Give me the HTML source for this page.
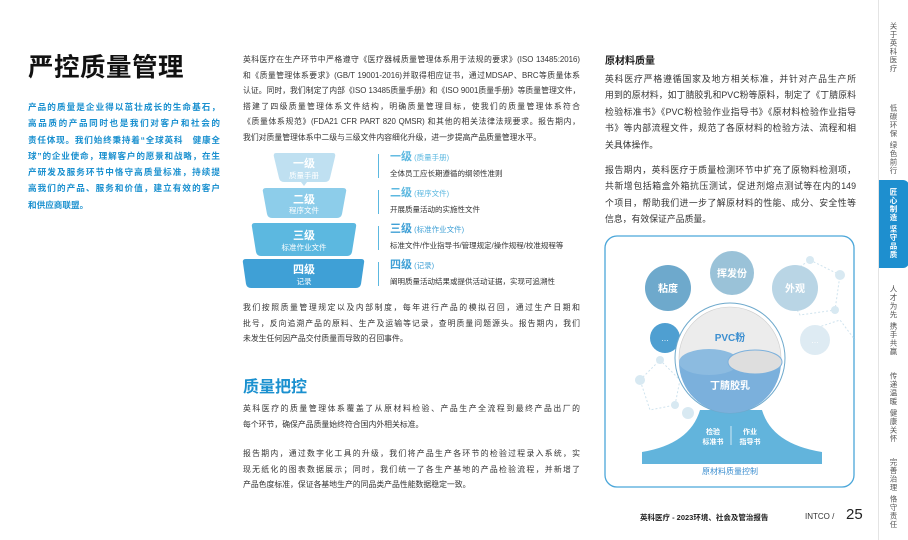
<!DOCTYPE html>
<html><head><meta charset="utf-8"><style>
*{margin:0;padding:0;box-sizing:border-box}
body{width:908px;height:540px;background:#fff;position:relative;overflow:hidden;font-family:"Liberation Sans","Noto Sans CJK SC",sans-serif;color:#333}
.a{position:absolute}
.p{font-size:7.85px;line-height:15.6px;color:#333}
.p span,.r span,.b span{display:block;white-space:nowrap;text-align:justify;text-align-last:justify}
.p span.e,.r span.e,.b span.e{text-align-last:left}
.r{font-size:8.85px;line-height:16.4px;width:251px}
.side{position:absolute;left:878px;top:0;width:30px;height:540px;border-left:1px solid #e4e4e4}
.v{position:absolute;writing-mode:vertical-rl;font-size:7.5px;color:#555;letter-spacing:1px;left:9px}
</style></head><body>

<div class="a" style="left:28px;top:47px;font-size:25.5px;font-weight:bold;color:#111;letter-spacing:0.5px">严控质量管理</div>
<div class="a b" style="left:28px;top:99px;width:192px;font-size:8.6px;line-height:16.3px;font-weight:bold;color:#1a90cf"><span>产品的质量是企业得以茁壮成长的生命基石，</span><span>高品质的产品同时也是我们对客户和社会的</span><span>责任体现。我们始终秉持着“全球英科　健康全</span><span>球”的企业使命，理解客户的愿景和战略，在生</span><span>产研发及服务环节中恪守高质量标准，持续提</span><span>高我们的产品、服务和价值，建立有效的客户</span><span class="e">和供应商联盟。</span></div>

<div class="a p" style="left:243px;top:52px;width:337px"><span>英科医疗在生产环节中严格遵守《医疗器械质量管理体系用于法规的要求》(ISO 13485:2016)</span><span>和《质量管理体系要求》(GB/T 19001-2016)并取得相应证书，通过MDSAP、BRC等质量体系</span><span>认证。同时，我们制定了内部《ISO 13485质量手册》和《ISO 9001质量手册》等质量管理文件，</span><span>搭建了四级质量管理体系文件结构，明确质量管理目标，使我们的质量管理体系符合</span><span>《质量体系规范》(FDA21 CFR PART 820 QMSR) 和其他的相关法律法规要求。报告期内，</span><span class="e">我们对质量管理体系中二级与三级文件内容细化升级，进一步提高产品质量管理水平。</span></div>

<svg class="a" style="left:240px;top:148px" width="130" height="145">
<path d="M36 5 H93 Q96 5 95 9 L90 30 Q89 34 85 34 H44 Q40 34 39 30 L34 9 Q33 5 36 5Z" fill="#bfe0f1"/>
<path d="M26 40 H103 Q107 40 106 44 L102 66 Q101 70 97 70 H32 Q28 70 27 66 L23 44 Q22 40 26 40Z" fill="#8dcdea"/>
<path d="M15 75 H113 Q117 75 116 79 L112 104 Q111 108 107 108 H21 Q17 108 16 104 L12 79 Q11 75 15 75Z" fill="#5cb8e0"/>
<path d="M6 111 H121 Q125 111 124 115 L121 136 Q120 140 116 140 H11 Q7 140 6 136 L3 115 Q2 111 6 111Z" fill="#3fa0d6"/>
<path d="M61 34 L67 34 L64 38Z" fill="#bfe0f1"/>
<g fill="#fff" text-anchor="middle" font-family="Liberation Sans,Noto Sans CJK SC,sans-serif">
<text x="64" y="19" font-size="11" font-weight="bold">一级</text><text x="64" y="30" font-size="7.5">质量手册</text>
<text x="64" y="55" font-size="11" font-weight="bold">二级</text><text x="64" y="65" font-size="7.5">程序文件</text>
<text x="64" y="91" font-size="11" font-weight="bold">三级</text><text x="64" y="102" font-size="7.5">标准作业文件</text>
<text x="64" y="125" font-size="11" font-weight="bold">四级</text><text x="64" y="136" font-size="7.5">记录</text>
</g></svg>

<div class="a" style="left:378px;top:154px;width:1px;height:24px;background:#5cb8e0"></div>
<div class="a" style="left:378px;top:190px;width:1px;height:24px;background:#5cb8e0"></div>
<div class="a" style="left:378px;top:226px;width:1px;height:24px;background:#5cb8e0"></div>
<div class="a" style="left:378px;top:262px;width:1px;height:24px;background:#5cb8e0"></div>
<div class="a" style="left:390px;top:151px;font-size:7.5px;line-height:12px;color:#333"><span style="color:#5cb8e0;font-size:11px;font-weight:bold">一级</span> <span style="color:#5cb8e0">(质量手册)</span><br><span style="line-height:20px">全体员工应长期遵循的纲领性准则</span></div>
<div class="a" style="left:390px;top:187px;font-size:7.5px;line-height:12px;color:#333"><span style="color:#5cb8e0;font-size:11px;font-weight:bold">二级</span> <span style="color:#5cb8e0">(程序文件)</span><br><span style="line-height:20px">开展质量活动的实施性文件</span></div>
<div class="a" style="left:390px;top:223px;font-size:7.5px;line-height:12px;color:#333"><span style="color:#3fa0d6;font-size:11px;font-weight:bold">三级</span> <span style="color:#3fa0d6">(标准作业文件)</span><br><span style="line-height:20px">标准文件/作业指导书/管理规定/操作规程/校准规程等</span></div>
<div class="a" style="left:390px;top:259px;font-size:7.5px;line-height:12px;color:#333"><span style="color:#3fa0d6;font-size:11px;font-weight:bold">四级</span> <span style="color:#3fa0d6">(记录)</span><br><span style="line-height:20px">阐明质量活动结果或提供活动证据，实现可追溯性</span></div>

<div class="a p" style="left:243px;top:300px;width:337px"><span>我们按照质量管理规定以及内部制度，每年进行产品的模拟召回，通过生产日期和</span><span>批号，反向追溯产品的原料、生产及运输等记录，查明质量问题源头。报告期内，我们</span><span class="e">未发生任何因产品交付质量而导致的召回事件。</span></div>
<div class="a" style="left:243px;top:373px;font-size:16px;font-weight:bold;color:#1a90cf">质量把控</div>
<div class="a p" style="left:243px;top:401px;width:337px"><span>英科医疗的质量管理体系覆盖了从原材料检验、产品生产全流程到最终产品出厂的</span><span class="e">每个环节，确保产品质量始终符合国内外相关标准。</span></div>
<div class="a p" style="left:243px;top:446px;width:337px"><span>报告期内，通过数字化工具的升级，我们将产品生产各环节的检验过程录入系统，实</span><span>现无纸化的图表数据展示；同时，我们统一了各生产基地的产品检验流程，并新增了</span><span class="e">产品色度标准，保证各基地生产的同品类产品性能数据稳定一致。</span></div>

<div class="a" style="left:605px;top:52px;font-size:10px;font-weight:bold;color:#222">原材料质量</div>
<div class="a r" style="left:605px;top:71px"><span>英科医疗严格遵循国家及地方相关标准，并针对产品生产所</span><span>用到的原材料，如丁腈胶乳和PVC粉等原料，制定了《丁腈原料</span><span>检验标准书》《PVC粉检验作业指导书》《原材料检验作业指导</span><span>书》等内部流程文件，规范了各原材料的检验方法、流程和相</span><span class="e">关具体操作。</span></div>
<div class="a r" style="left:605px;top:162px"><span>报告期内，英科医疗于质量检测环节中扩充了原物料检测项，</span><span>共新增包括箱盒外箱抗压测试，促进剂熔点测试等在内的149</span><span>个项目，帮助我们进一步了解原材料的性能、成分、安全性等</span><span class="e">信息，有效保证产品质量。</span></div>

<svg class="a" style="left:600px;top:230px" width="260" height="262" font-family="Liberation Sans,Noto Sans CJK SC,sans-serif">
<rect x="5" y="6" width="249" height="251" rx="12" fill="none" stroke="#4aa6d9" stroke-width="1.3"/>
<g stroke="#cfe3ee" stroke-dasharray="2 2" fill="none"><path d="M180 50 L210 30 L240 45 L235 80 L200 85 L180 50 M210 100 L240 90 L255 110"/><path d="M40 150 L60 130 L80 150 L75 175 L50 180 Z"/></g>
<g fill="#d8e9f2"><circle cx="210" cy="30" r="4"/><circle cx="240" cy="45" r="5"/><circle cx="235" cy="80" r="4"/><circle cx="60" cy="130" r="4"/><circle cx="40" cy="150" r="5"/><circle cx="75" cy="175" r="4"/><circle cx="88" cy="183" r="6"/></g>
<circle cx="68" cy="58" r="23" fill="#6ea9cc"/><text x="68" y="62" text-anchor="middle" font-size="10" fill="#fff" font-weight="bold">粘度</text>
<circle cx="132" cy="43" r="22" fill="#9ac2d8"/><text x="132" y="47" text-anchor="middle" font-size="10" fill="#fff" font-weight="bold">挥发份</text>
<circle cx="195" cy="58" r="23" fill="#b9d5e5"/><text x="195" y="62" text-anchor="middle" font-size="10" fill="#fff" font-weight="bold">外观</text>
<circle cx="65" cy="108" r="15" fill="#4f9fd1"/><text x="65" y="111" text-anchor="middle" font-size="8" fill="#fff">…</text>
<circle cx="215" cy="110" r="15" fill="#deebf3"/><text x="215" y="113" text-anchor="middle" font-size="8" fill="#fff">…</text>
<path d="M42 234 V222 Q90 214 100 180 L162 180 Q172 214 222 222 V234Z" fill="#62b4dc"/>
<circle cx="130" cy="128" r="55" fill="#fff" stroke="#6ea9cc" stroke-width="1"/>
<circle cx="130" cy="128" r="51" fill="#ececec" stroke="#ccc" stroke-width="0.6"/>
<path d="M79 132 A51 51 0 0 0 181 132 Z" fill="#7bb0dc"/>
<ellipse cx="109" cy="132" rx="30" ry="13" fill="#8cbbe0"/>
<ellipse cx="155" cy="132" rx="27" ry="12" fill="#dedede" stroke="#7bb0dc"/>
<text x="130" y="111" text-anchor="middle" font-size="10" fill="#3d8fd0" font-weight="bold">PVC粉</text>
<text x="130" y="159" text-anchor="middle" font-size="10" fill="#fff" font-weight="bold">丁腈胶乳</text>
<text x="113" y="204" text-anchor="middle" font-size="7" fill="#fff" font-weight="bold">检验</text><text x="113" y="214" text-anchor="middle" font-size="7" fill="#fff" font-weight="bold">标准书</text>
<line x1="131" y1="196" x2="131" y2="215" stroke="#fff" stroke-width="0.7"/>
<text x="150" y="204" text-anchor="middle" font-size="7" fill="#fff" font-weight="bold">作业</text><text x="150" y="214" text-anchor="middle" font-size="7" fill="#fff" font-weight="bold">指导书</text>
<text x="130" y="244" text-anchor="middle" font-size="8" fill="#3d8fd0">原材料质量控制</text>
</svg>

<div class="a" style="left:640px;top:512px;font-size:7.5px;font-weight:bold;color:#222">英科医疗 - 2023环境、社会及管治报告</div>
<div class="a" style="left:805px;top:512px;font-size:8px;color:#333">INTCO /</div>
<div class="a" style="left:846px;top:506px;font-size:15px;color:#222">25</div>

<div class="side">
<div class="v" style="top:22px">关于英科医疗</div>
<div class="v" style="top:104px">低碳环保 绿色前行</div>
<div class="a" style="left:0;top:180px;width:30px;height:88px;background:#1e8fcf;border-radius:0 6px 6px 0"></div>
<div class="v" style="top:188px;color:#fff;font-weight:bold">匠心制造 坚守品质</div>
<div class="v" style="top:285px">人才为先 携手共赢</div>
<div class="v" style="top:372px">传递温暖 健康关怀</div>
<div class="v" style="top:458px">完善治理 恪守责任</div>
</div>
</body></html>
